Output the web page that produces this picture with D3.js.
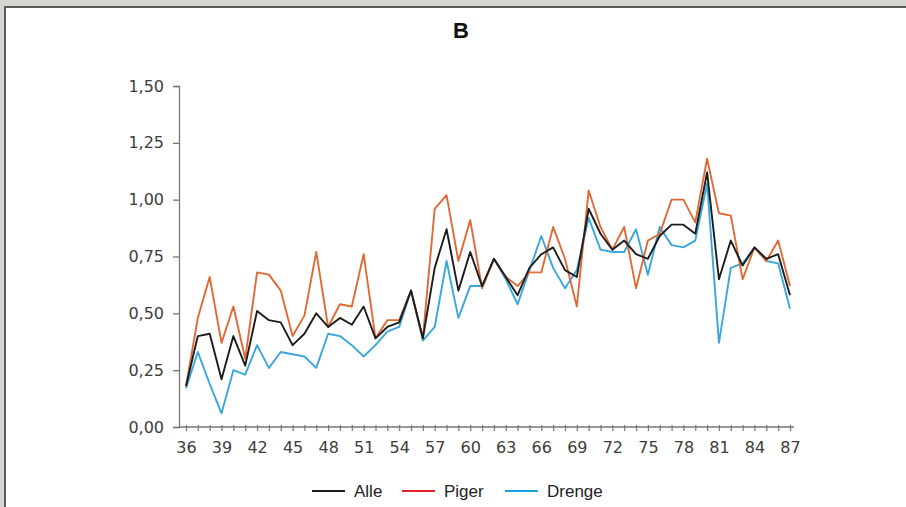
<!DOCTYPE html>
<html>
<head>
<meta charset="utf-8">
<script src="https://cdn.jsdelivr.net/npm/d3@7"></script>
<style>
  body { margin: 0; background: #fff; }
  .tick text { font-family: "DejaVu Sans", sans-serif; font-size: 16px; fill: #3d3d3d; }
  .legend text { font-family: "Liberation Sans", Arial, sans-serif; font-size: 17px; fill: #222; }
</style>
</head>
<body>
<div id="chart"></div>
<script>
//constant and globals
const width = 906,
    height = 507,
    margin = { top: 86, bottom: 80, left: 179, right: 113 };

// data, years 1936-1987
const years = d3.range(36, 88);
const alle = [0.18, 0.40, 0.41, 0.21, 0.40, 0.27, 0.51, 0.47, 0.46, 0.36,
    0.41, 0.50, 0.44, 0.48, 0.45, 0.53, 0.39, 0.44, 0.46, 0.60,
    0.39, 0.70, 0.87, 0.60, 0.77, 0.62, 0.74, 0.66, 0.58, 0.70,
    0.76, 0.79, 0.69, 0.66, 0.96, 0.85, 0.78, 0.82, 0.76, 0.74,
    0.84, 0.89, 0.89, 0.85, 1.12, 0.65, 0.82, 0.71, 0.79, 0.74,
    0.76, 0.58];
const piger = [0.18, 0.48, 0.66, 0.37, 0.53, 0.30, 0.68, 0.67, 0.60, 0.40,
    0.49, 0.77, 0.44, 0.54, 0.53, 0.76, 0.39, 0.47, 0.47, 0.60,
    0.39, 0.96, 1.02, 0.73, 0.91, 0.61, 0.74, 0.66, 0.62, 0.68,
    0.68, 0.88, 0.74, 0.53, 1.04, 0.88, 0.78, 0.88, 0.61, 0.82,
    0.85, 1.00, 1.00, 0.90, 1.18, 0.94, 0.93, 0.65, 0.79, 0.73,
    0.82, 0.62];
const drenge = [0.17, 0.33, 0.19, 0.06, 0.25, 0.23, 0.36, 0.26, 0.33, 0.32,
    0.31, 0.26, 0.41, 0.40, 0.36, 0.31, 0.36, 0.42, 0.44, 0.60,
    0.38, 0.44, 0.73, 0.48, 0.62, 0.62, 0.74, 0.65, 0.54, 0.69,
    0.84, 0.70, 0.61, 0.69, 0.92, 0.78, 0.77, 0.77, 0.87, 0.67,
    0.88, 0.80, 0.79, 0.82, 1.07, 0.37, 0.70, 0.72, 0.79, 0.73,
    0.72, 0.52];
const yTicks = [0, 0.25, 0.5, 0.75, 1.0, 1.25, 1.5];
const xLabels = d3.range(36, 88, 3);

const series = [
    { name: "Alle", values: alle, color: "#1c1c1c", key: "#1c1c1c" },
    { name: "Piger", values: piger, color: "#df6a35", key: "#e3232b" },
    { name: "Drenge", values: drenge, color: "#3aa7dc", key: "#1aa0e0" }
];

const svg = d3.select("#chart")
    .append("svg")
    .attr("width", width)
    .attr("height", height);

// frame
svg.append("rect").attr("x", 0).attr("y", 0).attr("width", width).attr("height", 6).attr("fill", "#d4d6d2");
svg.append("rect").attr("x", 0).attr("y", 6).attr("width", width).attr("height", 2).attr("fill", "#5a5a5a");
svg.append("rect").attr("x", 0).attr("y", 6).attr("width", 4).attr("height", height).attr("fill", "#d4d6d2");
svg.append("rect").attr("x", 4).attr("y", 6).attr("width", 2).attr("height", height).attr("fill", "#5a5a5a");

// title
svg.append("text")
    .attr("x", 461)
    .attr("y", 38)
    .attr("text-anchor", "middle")
    .style("font-family", "Liberation Sans, Arial, sans-serif")
    .style("font-weight", "bold")
    .style("font-size", "22px")
    .attr("fill", "#111")
    .text("B");

// scales
const xScale = d3.scaleLinear()
    .domain([36, 87])
    .range([186, 790]);
const yScale = d3.scaleLinear()
    .domain([0, 1.5])
    .range([height - margin.bottom, margin.top]);

const comma = v => d3.format(".2f")(v).replace(".", ",");

// y axis
const yAxis = d3.axisLeft(yScale).tickValues(yTicks).tickFormat(comma).tickSize(6).tickPadding(9);
svg.append("g")
    .attr("class", "axis y-axis")
    .attr("transform", `translate(${margin.left},0)`)
    .call(yAxis)
    .call(g => g.select(".domain").attr("stroke", "#777").attr("stroke-width", 1.3))
    .call(g => g.selectAll(".tick line").attr("stroke", "#777").attr("stroke-width", 1.3));

// x axis, tick every year, label every third
const xAxis = d3.axisBottom(xScale)
    .tickValues(years)
    .tickFormat(d => xLabels.includes(d) ? d : "")
    .tickSize(4)
    .tickSizeOuter(0)
    .tickPadding(11);
svg.append("g")
    .attr("class", "axis x-axis")
    .attr("transform", `translate(0,${height - margin.bottom})`)
    .call(xAxis)
    .call(g => g.select(".domain").remove())
    .call(g => g.selectAll(".tick line").attr("y1", -2).attr("stroke", "#777").attr("stroke-width", 1.2));

svg.append("line")
    .attr("x1", margin.left)
    .attr("x2", xScale(87) + 4)
    .attr("y1", yScale(0))
    .attr("y2", yScale(0))
    .attr("stroke", "#777")
    .attr("stroke-width", 1.3);

// lines
const lineFunc = d3.line()
    .x((d, i) => xScale(years[i]))
    .y(d => yScale(d));

svg.selectAll("path.trend")
    .data(series.slice().reverse())
    .join("path")
    .attr("class", "trend")
    .attr("fill", "none")
    .attr("stroke", d => d.color)
    .attr("stroke-width", 1.9)
    .attr("stroke-linejoin", "round")
    .attr("d", d => lineFunc(d.values));

// legend
const legendX = [312, 402, 505];
const legend = svg.append("g").attr("class", "legend");
const item = legend.selectAll("g")
    .data(series)
    .join("g")
    .attr("transform", (d, i) => `translate(${legendX[i]},491)`);
item.append("line")
    .attr("x1", 0).attr("x2", 33)
    .attr("stroke", d => d.key)
    .attr("stroke-width", 2.2);
item.append("text")
    .attr("x", 42)
    .attr("y", 6)
    .text(d => d.name);
</script>
</body>
</html>
